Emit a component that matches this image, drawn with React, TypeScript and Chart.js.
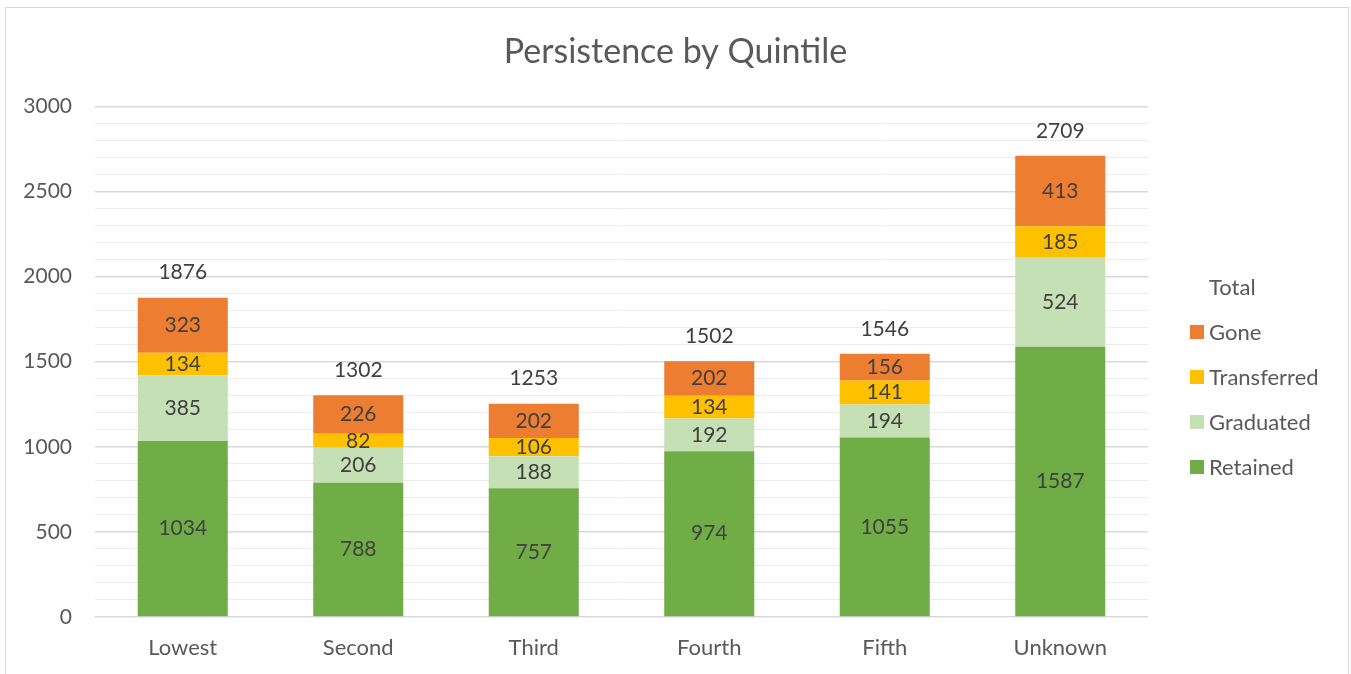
import React, { useEffect, useRef } from "react";
import { Chart, registerables } from "chart.js";

Chart.register(...registerables);

const categories = ["Lowest", "Second", "Third", "Fourth", "Fifth", "Unknown"];
const retained = [1034, 788, 757, 974, 1055, 1587];
const graduated = [385, 206, 188, 192, 194, 524];
const transferred = [134, 82, 106, 134, 141, 185];
const gone = [323, 226, 202, 202, 156, 413];
const totals = [1876, 1302, 1253, 1502, 1546, 2709];
const yTicks = [0, 500, 1000, 1500, 2000, 2500, 3000];

const FONT = "Lato, 'Noto Sans', sans-serif";
const TEXT = "#404040";
const AXIS_TEXT = "#595959";

const labelsPlugin = {
  id: "segLabels",
  afterDatasetsDraw(chart: any) {
    const ctx = chart.ctx;
    ctx.save();
    ctx.font = `21px ${FONT}`;
    ctx.fillStyle = TEXT;
    ctx.textAlign = "center";
    ctx.textBaseline = "middle";
    chart.data.datasets.forEach((ds: any, i: number) => {
      const meta = chart.getDatasetMeta(i);
      meta.data.forEach((el: any, j: number) => {
        const v = ds.data[j];
        if (meta.type === "bar") {
          ctx.fillText(String(v), el.x, (el.y + el.base) / 2);
        } else {
          ctx.fillText(String(v), el.x, el.y - 25);
        }
      });
    });
    ctx.restore();
  },
};

const legendPlugin = {
  id: "sideLegend",
  afterDraw(chart: any) {
    const ctx = chart.ctx;
    ctx.save();
    ctx.font = `22px ${FONT}`;
    ctx.textBaseline = "middle";
    ctx.textAlign = "left";
    const items = [...chart.data.datasets].reverse();
    items.forEach((ds: any, k: number) => {
      const y = 287 + k * 45;
      if (ds.type !== "line") {
        ctx.fillStyle = ds.backgroundColor;
        ctx.fillRect(1190, y - 7, 14, 14);
      }
      ctx.fillStyle = AXIS_TEXT;
      ctx.fillText(ds.label, 1209, y + 1);
    });
    ctx.restore();
  },
};

export default function App() {
  const ref = useRef<HTMLCanvasElement | null>(null);
  useEffect(() => {
    document.body.style.margin = "0";
    const chart = new Chart(ref.current as HTMLCanvasElement, {
      type: "bar",
      data: {
        labels: categories,
        datasets: [
          { label: "Retained", data: retained, backgroundColor: "#70AD47", stack: "s" } as any,
          { label: "Graduated", data: graduated, backgroundColor: "#C5E0B4", stack: "s" },
          { label: "Transferred", data: transferred, backgroundColor: "#FFC000", stack: "s" },
          { label: "Gone", data: gone, backgroundColor: "#ED7D31", stack: "s" },
          {
            type: "line",
            label: "Total",
            data: totals,
            stack: "total",
            showLine: false,
            pointRadius: 0,
            borderColor: "rgba(0,0,0,0)",
            backgroundColor: "rgba(0,0,0,0)",
          },
        ],
      },
      options: {
        animation: false,
        responsive: false,
        maintainAspectRatio: false,
        layout: { padding: 0 },
        datasets: { bar: { categoryPercentage: 1, barPercentage: 0.513 } },
        plugins: {
          legend: { display: false },
          tooltip: { enabled: false },
          title: {
            display: true,
            text: "Persistence by Quintile",
            color: AXIS_TEXT,
            font: { family: FONT, size: 34, weight: "normal" as any },
            padding: { top: 32, bottom: 33.5 },
          },
        },
        scales: {
          x: {
            stacked: true,
            grid: { display: false, drawTicks: false },
            border: { display: false },
            ticks: { color: AXIS_TEXT, font: { family: FONT, size: 22 }, padding: 18 },
            afterFit: (s: any) => {
              s.height = 57;
            },
          },
          y: {
            stacked: true,
            min: 0,
            max: 3000,
            grid: {
              drawTicks: false,
              color: (c: any) => (yTicks.includes(c.tick.value) ? "#d9d9d9" : "#ececec"),
              lineWidth: (c: any) => (yTicks.includes(c.tick.value) ? 1.5 : 1),
            },
            border: { display: false },
            ticks: {
              stepSize: 100,
              autoSkip: false,
              color: AXIS_TEXT,
              font: { family: FONT, size: 21 },
              padding: 23,
              callback: (v: any) => (yTicks.includes(Number(v)) ? String(v) : ""),
            },
            afterFit: (s: any) => {
              s.width = 95;
            },
          },
          spacer: {
            type: "linear",
            position: "right",
            display: true,
            grid: { display: false, drawTicks: false },
            border: { display: false },
            ticks: { display: false },
            afterFit: (s: any) => {
              s.width = 203;
            },
          },
        },
      },
      plugins: [labelsPlugin, legendPlugin],
    } as any);
    return () => chart.destroy();
  }, []);

  return (
    <div style={{ position: "relative", width: 1351, height: 674, overflow: "hidden", background: "#fff" }}>
      <canvas ref={ref} width={1351} height={674} style={{ display: "block" }} />
      <div
        style={{
          position: "absolute",
          left: 5,
          top: 7,
          width: 1342,
          height: 720,
          border: "1.5px solid #d9d9d9",
          pointerEvents: "none",
        }}
      />
    </div>
  );
}
